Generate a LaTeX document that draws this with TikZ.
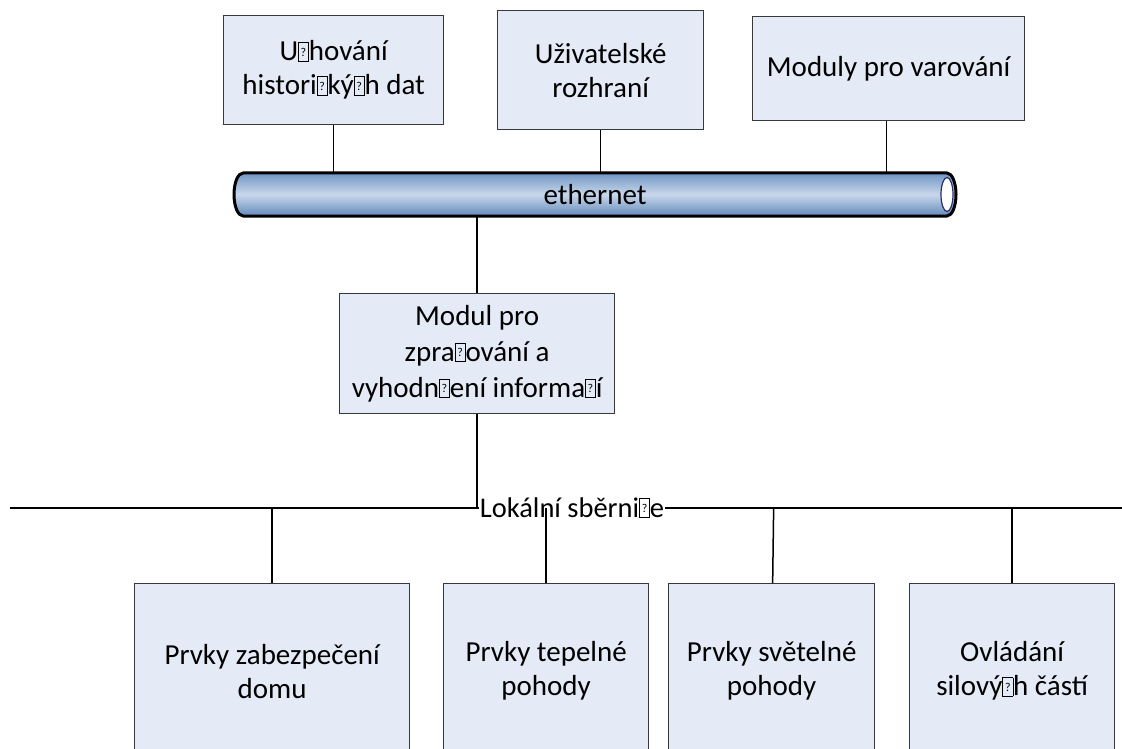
\documentclass[tikz,border=0pt]{standalone}
\usepackage{fontspec}
\setmainfont{Carlito}
\definecolor{boxfill}{RGB}{228,235,246}
\definecolor{tubetop}{RGB}{112,150,196}
\definecolor{tubemid}{RGB}{200,215,234}
\definecolor{tubebot}{RGB}{98,138,188}
\definecolor{navy}{RGB}{40,45,110}
\newcommand\nd{{\setlength\fboxsep{0pt}\setlength\fboxrule{0.6pt}\fbox{\makebox[9.5pt]{\rule{0pt}{18pt}\raisebox{4.5pt}{\fontsize{12}{12}\selectfont ?}}}}}
\begin{document}
\begin{tikzpicture}[x=1pt,y=-1pt,
  box/.style={draw=black!78, line width=1.3pt, fill=boxfill, align=center,
    font=\fontsize{29}{34}\selectfont, inner sep=0pt, anchor=north west},
  conn/.style={line width=1.5pt, draw=black}]
\useasboundingbox (0,0) rectangle (1122,749);
% top boxes
\node[box, minimum width=220pt, minimum height=109pt] (hist) at (223,15) {U\nd hování\\histori\nd ký\nd h dat};
\node[box, minimum width=206pt, minimum height=119pt] (ui) at (497,10) {Uživatelské\\rozhraní};
\node[box, minimum width=272pt, minimum height=104pt] (warn) at (752,16) {Moduly pro varování};
% ethernet tube
\node[minimum width=712pt, minimum height=43pt, inner sep=0pt] (eth) at (595,194.5) {};
\fill[top color=tubetop, bottom color=tubebot, middle color=tubemid]
  (243,173) -- (947,173) arc[start angle=90,end angle=-90,x radius=9pt,y radius=21.5pt]
  -- (243,216) arc[start angle=270,end angle=90,x radius=9pt,y radius=21.5pt] -- cycle;
\draw[line width=3pt, line join=round]
  (243,173) -- (947,173) arc[start angle=90,end angle=-90,x radius=9pt,y radius=21.5pt]
  -- (243,216) arc[start angle=270,end angle=90,x radius=9pt,y radius=21.5pt] -- cycle;
\draw[draw=navy, fill=white, line width=1.2pt] (947,194.5) ellipse[x radius=6pt, y radius=17pt];
\node[font=\fontsize{29}{29}\selectfont, inner sep=0pt] at (eth.center) {ethernet};
% connectors to tube
\draw[conn] (hist.south) -- (hist.south |- eth.north);
\draw[conn] (ui.south) -- (ui.south |- eth.north);
\draw[conn] ([xshift=-2pt]warn.south) -- ([xshift=-2pt]warn.south |- eth.north);
% processing module
\node[box, minimum width=275pt, minimum height=120pt, font=\fontsize{29}{36}\selectfont] (proc) at (339,293) {Modul pro\\zpra\nd ování a\\vyhodn\nd ení informa\nd í};
\draw[conn] (proc.north |- eth.south) -- (proc.north);
% local bus
\coordinate (busL) at (10,508);
\coordinate (busR) at (1122,508);
\draw[conn] (busL) -- (busR);
\draw[conn] (proc.south) -- (proc.south |- busL);
\node[fill=white, inner sep=1pt, font=\fontsize{28.5}{28.5}\selectfont, anchor=base] (lbl) at (572,517) {Lokální sběrni\nd e};
% bottom boxes
\node[box, minimum width=275pt, minimum height=175pt] (sec) at (134,583) {Prvky zabezpečení\\domu};
\node[box, minimum width=205pt, minimum height=175pt] (heat) at (443,583) {Prvky tepelné\\pohody};
\node[box, minimum width=206pt, minimum height=175pt] (light) at (668,583) {Prvky světelné\\pohody};
\node[box, minimum width=205pt, minimum height=175pt] (power) at (909,583) {Ovládání\\silový\nd h částí};
\draw[conn] (sec.north |- busL) -- (sec.north);
\draw[conn] (heat.north |- busL) -- (heat.north);
\draw[conn] ([xshift=2pt]light.north |- busL) -- ([xshift=1pt]light.north);
\draw[conn] (power.north |- busL) -- (power.north);
\end{tikzpicture}
\end{document}
